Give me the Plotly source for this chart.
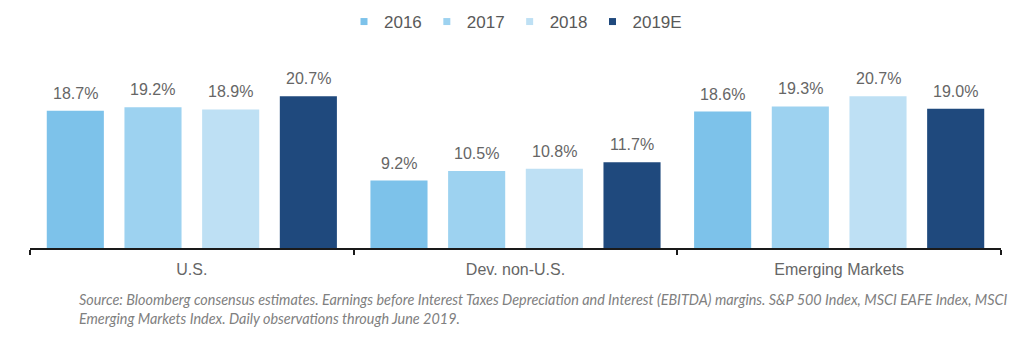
import plotly.graph_objects as go

# Categories, years and EBITDA margin values (%)
regions = ["U.S.", "Dev. non-U.S.", "Emerging Markets"]
years = ["2016", "2017", "2018", "2019E"]
margins = {
    "2016": [18.7, 9.2, 18.6],
    "2017": [19.2, 10.5, 19.3],
    "2018": [18.9, 10.8, 20.7],
    "2019E": [20.7, 11.7, 19.0],
}
colors = ["#7DC2EA", "#9DD2F0", "#BEE0F4", "#1F497D"]

source_note = (
    "Source: Bloomberg consensus estimates. Earnings before Interest Taxes Depreciation and "
    "Interest (EBITDA) margins. S&P 500 Index, MSCI EAFE Index, MSCI<br>"
    "Emerging Markets Index. Daily observations through June 2019."
)

BARGAP = 0.04
slot = (1 - BARGAP) / len(years)
label_font = dict(family="Liberation Sans", size=16, color="#666666")

fig = go.Figure()
for i, (yr, col) in enumerate(zip(years, colors)):
    fig.add_trace(go.Bar(
        x=regions, y=margins[yr], name=yr, marker=dict(color=col, line=dict(width=0)),
        showlegend=False,
    ))
    # small square legend swatch
    fig.add_trace(go.Scatter(
        x=[None], y=[None], mode="markers", name=yr,
        marker=dict(symbol="square", size=7, color=col),
    ))

annotations = []
for i, yr in enumerate(years):
    for c, v in enumerate(margins[yr]):
        annotations.append(dict(
            x=c + (i - 1.5) * slot, y=v, xref="x", yref="y",
            text=f"{v:.1f}%", showarrow=False, yanchor="bottom",
            yshift=7, font=label_font,
        ))

annotations.append(dict(
    x=(77 - 30) / 971, y=-0.235, xref="paper", yref="paper",
    xanchor="left", yanchor="top", align="left", showarrow=False,
    text=source_note,
    font=dict(family="Lato", size=14.4, color="#808080", style="italic"),
))

fig.update_layout(
    width=1024, height=345,
    margin=dict(l=30, r=23, t=72, b=97),
    paper_bgcolor="white", plot_bgcolor="white",
    barmode="group", bargap=BARGAP, bargroupgap=0.265,
    legend=dict(
        orientation="h", x=0.5, xanchor="center", y=1 - 22 / 345, yanchor="middle",
        yref="container", font=dict(family="Liberation Sans", size=17, color="#595959"),
        itemwidth=30, tracegroupgap=0,
    ),
    annotations=annotations,
    xaxis=dict(
        type="category", range=[-0.5, 2.5],
        showline=True, linecolor="#1a1a1a", linewidth=1.5,
        ticks="outside", tickson="boundaries", ticklen=5, tickcolor="#1a1a1a", tickwidth=1.5,
        tickfont=dict(family="Liberation Sans", size=16, color="#666666"),
        ticklabelstandoff=6,
        showgrid=False,
    ),
    yaxis=dict(range=[0, 24], visible=False, showgrid=False, zeroline=False),
)

fig.write_html("out.html")
